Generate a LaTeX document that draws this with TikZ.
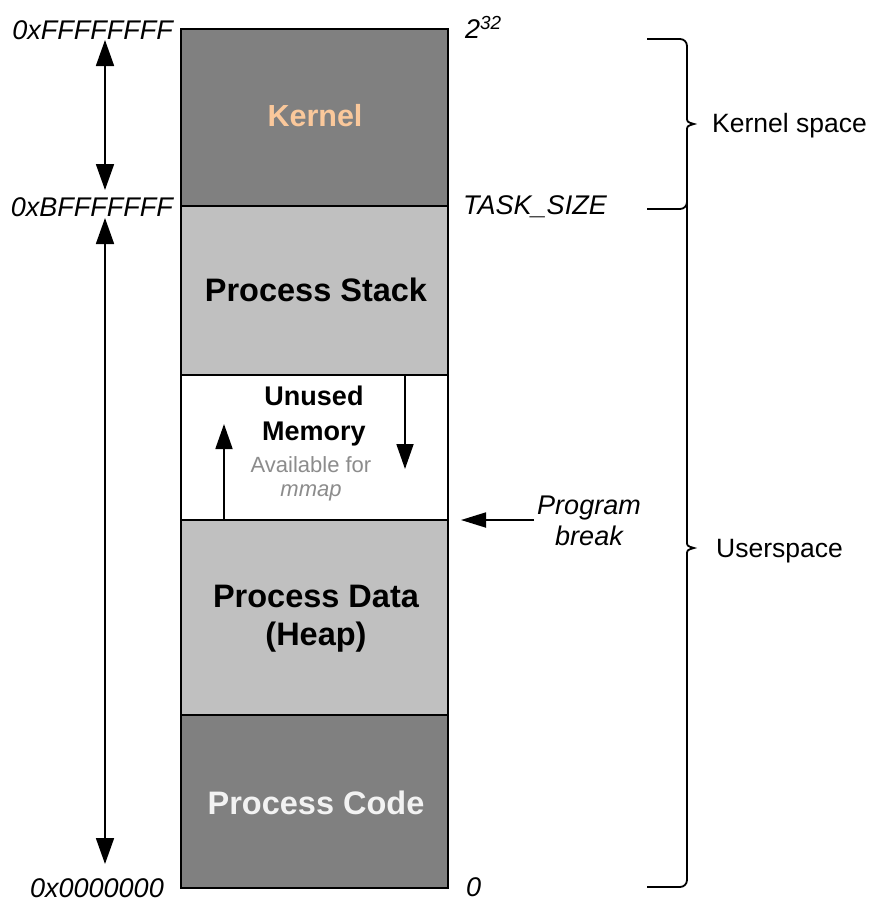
\documentclass[tikz,border=0pt]{standalone}
\usepackage{fontspec}
\setmainfont{Liberation Sans}
\usetikzlibrary{arrows.meta}
\definecolor{darkfill}{HTML}{808080}
\definecolor{lightfill}{HTML}{C0C0C0}
\definecolor{peach}{RGB}{250,200,155}
\definecolor{paletext}{HTML}{F2F2F2}
\definecolor{hint}{HTML}{8C8C8C}
\begin{document}
\begin{tikzpicture}[x=1pt,y=-1pt,
  block/.style={draw=black, line width=1.4pt, minimum width=267pt, inner sep=0pt, anchor=center},
  big/.style={font=\fontsize{32.5}{38}\selectfont\bfseries, align=center},
  addr/.style={font=\fontsize{27}{31}\selectfont\itshape, inner sep=0pt},
  side/.style={font=\fontsize{26.5}{30}\selectfont, inner sep=0pt, anchor=west},
  bigarrow/.style={line width=1.8pt, {Triangle[width=18pt,length=26pt]}-{Triangle[width=18pt,length=26pt]}},
  smallarrow/.style={line width=1.8pt, -{Triangle[width=17pt,length=25pt]}},
  brace/.style={line width=1.8pt, rounded corners=7pt}]
\useasboundingbox (0,0) rectangle (872,905);

% memory regions, top to bottom
\node[block, fill=darkfill,  minimum height=177pt] (kernel) at (314.5,117.5) {};
\node[block, fill=lightfill, minimum height=169pt] (stack)  at (314.5,290.5) {};
\node[block, fill=white,     minimum height=145pt] (unused) at (314.5,447.5) {};
\node[block, fill=lightfill, minimum height=195pt] (heap)   at (314.5,617.5) {};
\node[block, fill=darkfill,  minimum height=173pt] (code)   at (314.5,801.5) {};

% region titles
\node[big, text=peach, font=\fontsize{30.5}{34}\selectfont\bfseries] (tkernel) at (315,116) {Kernel};
\node[big] (tstack) at (316,290) {Process Stack};
\node[big, font=\fontsize{27}{35}\selectfont\bfseries] (tunused) at (314,416) {Unused\\Memory};
\node[align=center, text=hint, font=\fontsize{22}{24}\selectfont] (tmmap) at (311,479) {Available for\\\textit{mmap}};
\node[big, font=\fontsize{32.5}{38}\selectfont\bfseries] (theap) at (316,619) {Process Data\\(Heap)};
\node[big, text=paletext] (tcode) at (316,803) {Process Code};

% address labels
\node[addr, anchor=east] (lhigh) at (173,30) {0xFFFFFFFF};
\node[addr, anchor=east] (lmid)  at (173,207) {0xBFFFFFFF};
\node[addr, anchor=east] (llow)  at (164,888) {0x0000000};
\node[addr, anchor=west] (rhigh) at (465,27) {2\textsuperscript{32}};
\node[addr, anchor=west] (rmid)  at (463,207) {TASK\_SIZE};
\node[addr, anchor=west] (rlow)  at (466,887) {0};

% extent arrows on the left
\coordinate (k1) at (105,40);
\coordinate (k2) at (105,190);
\coordinate (u1) at (105,218);
\coordinate (u2) at (105,864);
\draw[bigarrow] (k1) -- (k2);
\draw[bigarrow] (u1) -- (u2);

% growth directions of heap and stack
\coordinate (heapgrow) at (224,424);
\coordinate (stackgrow) at (405,469);
\draw[smallarrow] (224,520) -- (heapgrow);
\draw[smallarrow] (405,375) -- (stackgrow);

% program break pointer
\node[addr, align=center, font=\fontsize{27}{31}\selectfont\itshape] (pbreak) at (589,521) {Program\\break};
\coordinate (brk) at (461,520);
\draw[smallarrow, -{Triangle[width=15pt,length=25pt]}] (534,520) -- (brk);

% braces
\draw[brace] (647,39) -- (687,39) -- (687,118);
\draw[line width=1.8pt] (687,117) .. controls (687,122) .. (694,124) .. controls (687,126) .. (687,131);
\draw[brace] (687,130) -- (687,209) -- (647,209);
\draw[brace] (687,209) -- (687,542);
\draw[line width=1.8pt] (687,541) .. controls (687,546) .. (694,548) .. controls (687,550) .. (687,555);
\draw[brace] (687,554) -- (687,887) -- (647,887);
\draw[line width=1.8pt] (687,202) -- (687,216);

\node[side] (kspace) at (712,126) {Kernel space};
\node[side] (uspace) at (716,551) {Userspace};
\end{tikzpicture}
\end{document}
